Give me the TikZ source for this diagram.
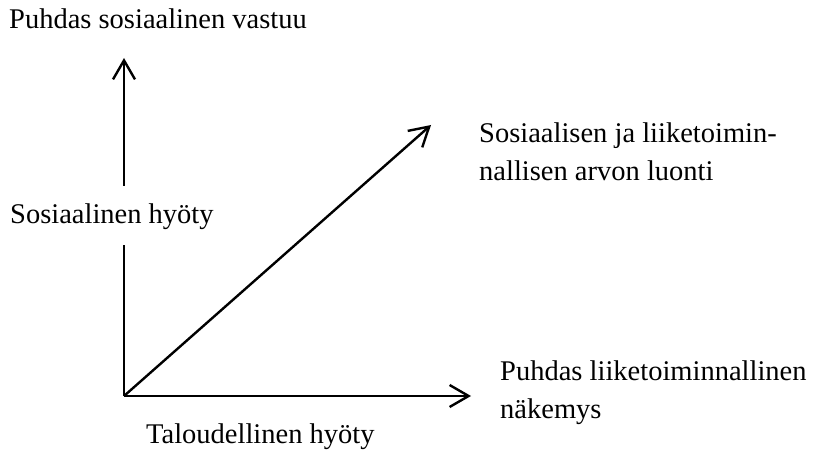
\documentclass[tikz,border=0pt]{standalone}
\usepackage{fontspec}
\setmainfont{Liberation Serif}
\usepackage{tikz}
\usetikzlibrary{arrows.meta}

\begin{document}
\begin{tikzpicture}[x=1pt,y=-1pt,
    every node/.style={font=\fontsize{28.5}{38}\selectfont, inner sep=0pt, anchor=base west, align=left},
    axis/.style={line width=2.4pt, -{Straight Barb[length=19pt,width=22pt,line width=2.4pt]}}]
  \useasboundingbox (0,0) rectangle (818,454);
  % origin and arrow ends
  \coordinate (O) at (124,396);
  \coordinate (ytop) at (124,58);
  \coordinate (xend) at (471,396);
  \coordinate (dend) at (431,125);
  % labels
  \node (ptop) at (9,29) {Puhdas sosiaalinen vastuu};
  \node[text height=37pt, text depth=22pt] (sosh) at (10,223) {Sosiaalinen hyöty};
  \node (luonti) at (479,181) {Sosiaalisen ja liiketoimin-\\nallisen arvon luonti};
  \node (liike) at (500,418) {Puhdas liiketoiminnallinen\\näkemys};
  \node (talous) at (146,443) {Taloudellinen hyöty};
  % axes
  \draw[line width=2.4pt] (O) -- (sosh.south -| O);
  \draw[axis] (sosh.north -| O) -- (ytop);
  \draw[axis] (O) -- (xend);
  \draw[axis] (O) -- (dend);
\end{tikzpicture}
\end{document}
